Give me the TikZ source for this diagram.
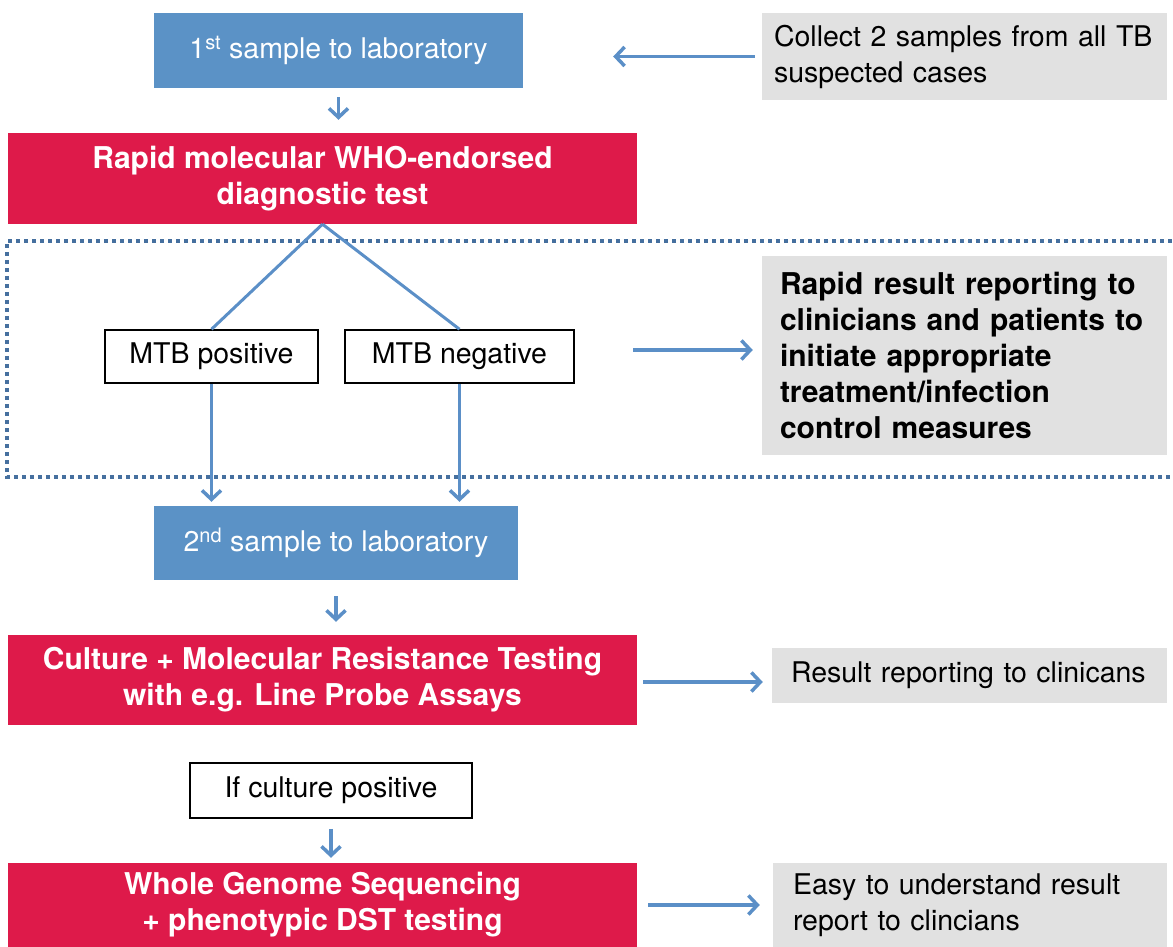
\documentclass[tikz,border=0pt]{standalone}
\usepackage{fontspec}
\setmainfont{TeX Gyre Heros}
\usepackage{xcolor}
\usetikzlibrary{arrows.meta,positioning}
\definecolor{sampleblue}{HTML}{5B92C6}
\definecolor{testred}{HTML}{DE1A4A}
\definecolor{notegrey}{HTML}{E1E1E1}
\definecolor{arrblue}{HTML}{5B8FC7}
\definecolor{frameblue}{HTML}{46709F}

\begin{document}
\begin{tikzpicture}[
        x=1pt, y=-1pt,
        every node/.style={font=\fontsize{28.5}{36}\selectfont},
        sample/.style={fill=sampleblue, text=white, minimum width=369pt, minimum height=75pt, inner sep=0pt},
        test/.style={fill=testred, text=white, font=\fontsize{30}{36}\selectfont\bfseries, minimum width=629pt, align=center, inner sep=0pt},
        result/.style={draw=black, line width=1.5pt, fill=white, minimum height=53pt, inner sep=0pt},
        note/.style={fill=notegrey, align=left, inner ysep=0pt},
        arr/.style={-{Straight Barb[length=9pt,width=19pt]}, line width=3.5pt, draw=arrblue},
        link/.style={line width=3pt, draw=arrblue}
    ]
    \useasboundingbox (0,0) rectangle (1173,947);
    \node[sample] (s1) at (338.5,50.5) {1\textsuperscript{st} sample to laboratory};
    \node[test, minimum height=91pt] (rmt) at (322.5,178.5) {Rapid molecular WHO-endorsed\\diagnostic test};
    \node[result, minimum width=213pt] (pos) at (211.5,356.5) {MTB positive};
    \node[result, minimum width=229pt] (neg) at (459.5,356.5) {MTB negative};
    \node[sample, minimum width=364pt, minimum height=74pt] (s2) at (336,543) {2\textsuperscript{nd} sample to laboratory};
    \node[test, minimum height=90pt] (cult) at (322.5,680) {Culture + Molecular Resistance Testing\\with e.g. Line Probe Assays};
    \node[result, minimum width=282pt, minimum height=55pt] (ifpos) at (331,790.5) {If culture positive};
    \node[test, minimum height=84pt] (wgs) at (322.5,905) {Whole Genome Sequencing\\ + phenotypic DST testing};

    \node[note, inner xsep=12pt, text width=381pt, minimum height=87pt] (collect) at (964.5,56.5) {Collect 2 samples from all TB\\suspected cases};
    \node[note, inner xsep=18pt, text width=369pt, minimum height=199pt, font=\fontsize{30}{36}\selectfont\bfseries] (rapid) at (964.5,355.5) {Rapid result reporting to\\clinicians and patients to\\initiate appropriate\\treatment/infection\\control measures};
    \node[note, inner xsep=19pt, text width=357pt, minimum height=55pt] (rep) at (969.5,675.5) {Result reporting to clinicans};
    \node[note, inner xsep=20pt, text width=354pt, minimum height=84pt] (easy) at (970,905) {Easy to understand result\\report to clincians};

    \draw[frameblue, line width=4pt, dash pattern=on 4pt off 4pt] (1180,241) -- (7,241) -- (7,477) -- (1180,477);

    \coordinate (mtbout) at (633,350);
    \draw[arr, shorten <=7pt, shorten >=90pt] (collect.west) -- (s1.east |- collect.west);
    \draw[arr, shorten <=9pt, shorten >=13pt] (s1) -- (s1 |- rmt.north);
    \draw[link] (rmt.south) -- (pos.north);
    \draw[link] (rmt.south) -- (neg.north);
    \draw[arr, shorten >=4pt] (pos.south) -- (pos.south |- s2.north);
    \draw[arr, shorten >=4pt] (neg.south) -- (neg.south |- s2.north);
    \draw[arr, shorten >=9pt] (mtbout) -- (mtbout -| rapid.west);
    \draw[arr, shorten <=16pt, shorten >=13pt] (s2.south) -- (s2.south |- cult.north);
    \draw[arr, shorten <=6pt, shorten >=9pt] ([yshift=-2pt]cult.east) -- ([yshift=-2pt]cult.east -| rep.west);
    \draw[arr, shorten <=10pt, shorten >=5pt] (ifpos.south) -- (ifpos.south |- wgs.north);
    \draw[arr, shorten <=11pt, shorten >=13pt] (wgs.east) -- (easy.west);
\end{tikzpicture}
\end{document}
